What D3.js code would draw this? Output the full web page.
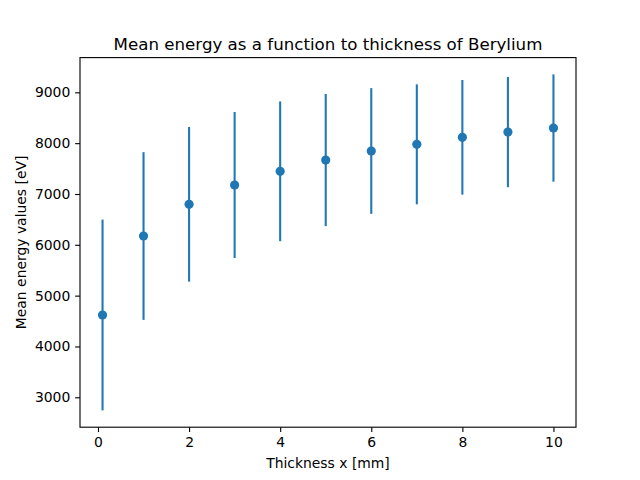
<!DOCTYPE html>
<html><head><meta charset="utf-8">
<script src="https://cdn.jsdelivr.net/npm/d3@7"></script>
<style>body{margin:0;background:#fff}text{font-family:"DejaVu Sans",sans-serif}</style>
</head><body>
<script>
const thickness = [0.1, 1, 2, 3, 4, 5, 6, 7, 8, 9, 10];
const meanEnergy = [4619, 6173, 6797, 7177, 7446, 7668, 7846, 7977, 8115, 8219, 8298];
const energyErr = [1877, 1650, 1522, 1436, 1375, 1300, 1237, 1180, 1128, 1085, 1055];
const xTicks = [0, 2, 4, 6, 8, 10];
const yTicks = [3000, 4000, 5000, 6000, 7000, 8000, 9000];
const titleText = "Mean energy as a function to thickness of Berylium";
const xLabel = "Thickness x [mm]";
const yLabel = "Mean energy values [eV]";

const W = 640, H = 480;
const L = 80, R = 576, T = 57.6, B = 427.2;
const color = "#1f77b4";

const svg = d3.select("body").append("svg").attr("width", W).attr("height", H);

function pad(lo, hi){ const d = (hi - lo) * 0.05; return [lo - d, hi + d]; }
const xDom = pad(d3.min(thickness), d3.max(thickness));
const lows = meanEnergy.map((m,i)=>m-energyErr[i]);
const highs = meanEnergy.map((m,i)=>m+energyErr[i]);
const yDom = pad(d3.min(lows), d3.max(highs));

const x = d3.scaleLinear().domain(xDom).range([L, R]);
const y = d3.scaleLinear().domain(yDom).range([B, T]);

const xAxis = d3.axisBottom(x).tickValues(xTicks).tickSize(4.86).tickPadding(4.86).tickFormat(d3.format("d"));
const yAxis = d3.axisLeft(y).tickValues(yTicks).tickSize(4.86).tickPadding(4.86).tickFormat(d3.format("d"));

const gx = svg.append("g").attr("transform", `translate(0,${B})`).call(xAxis);
const gy = svg.append("g").attr("transform", `translate(${L},0)`).call(yAxis);
[gx, gy].forEach(g => {
  g.select(".domain").remove();
  g.selectAll(".tick line").attr("stroke", "#000").attr("stroke-width", 1.11);
  g.selectAll(".tick text").attr("fill", "#000").style("font-size", "13.9px").style("font-family", "DejaVu Sans");
});

// error bars
svg.append("g").selectAll("line").data(thickness).join("line")
  .attr("x1", d => x(d)).attr("x2", d => x(d))
  .attr("y1", (d,i) => y(lows[i])).attr("y2", (d,i) => y(highs[i]))
  .attr("stroke", color).attr("stroke-width", 2.08);

svg.append("g").selectAll("circle").data(thickness).join("circle")
  .attr("cx", d => x(d)).attr("cy", (d,i) => y(meanEnergy[i]))
  .attr("r", 4.6).attr("fill", color);

// frame
svg.append("rect").attr("x", L).attr("y", T).attr("width", R - L).attr("height", B - T)
  .attr("fill", "none").attr("stroke", "#000").attr("stroke-width", 1.11);

svg.append("text").attr("x", (L + R) / 2).attr("y", 49.5).attr("text-anchor", "middle")
  .style("font-size", "16.67px").text(titleText);
svg.append("text").attr("x", (L + R) / 2).attr("y", 468).attr("text-anchor", "middle")
  .style("font-size", "13.9px").text(xLabel);
svg.append("text").attr("transform", `translate(26,${(T + B) / 2}) rotate(-90)`).attr("text-anchor", "middle")
  .style("font-size", "13.9px").text(yLabel);
</script>
</body></html>
